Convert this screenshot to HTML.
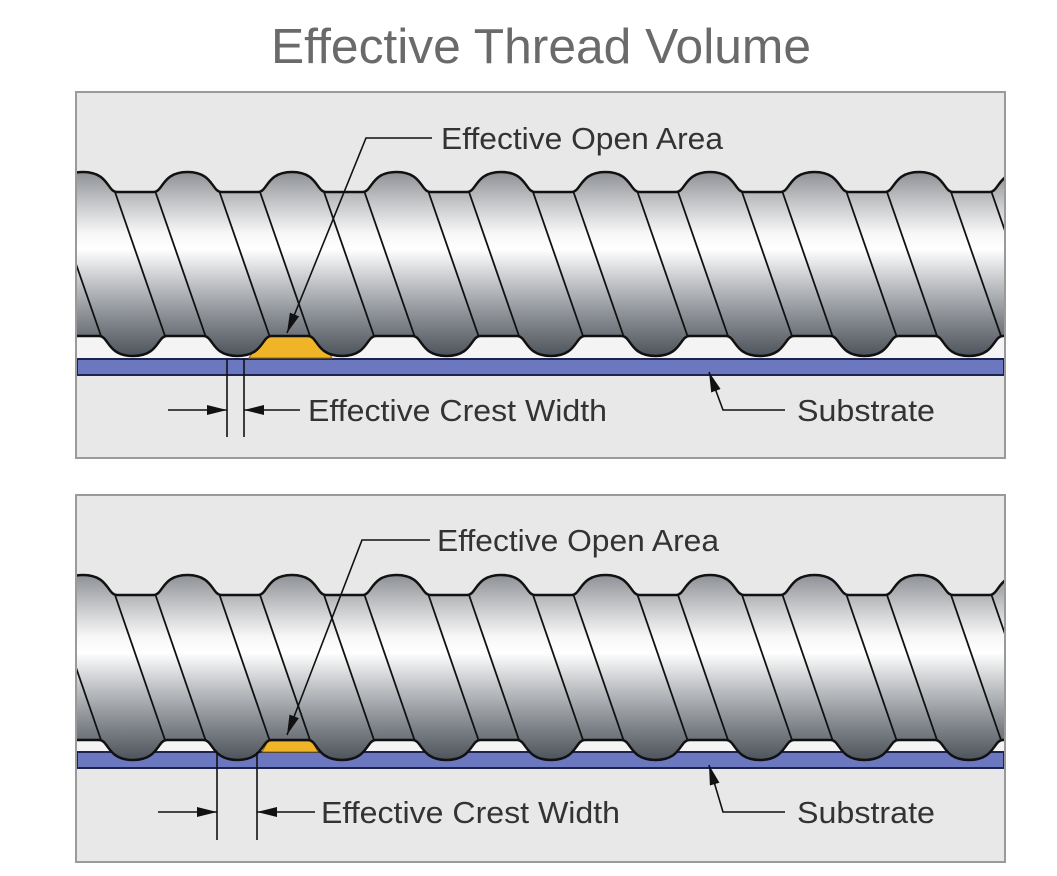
<!DOCTYPE html>
<html><head><style>
html,body{margin:0;padding:0;background:#fff;width:1057px;height:876px;overflow:hidden}
svg{display:block}
text{font-family:"Liberation Sans",sans-serif}
</style></head><body>
<svg id="s" width="1057" height="876" viewBox="0 0 1057 876" xmlns="http://www.w3.org/2000/svg">
<defs>
<marker id="ar" viewBox="0 0 20 10" refX="20" refY="5" markerWidth="20" markerHeight="10" orient="auto-start-reverse" markerUnits="userSpaceOnUse"><path d="M0,0L20,5L0,10z" fill="#111"/></marker>
</defs>
<text x="541" y="63" text-anchor="middle" font-size="49" fill="#6a6a6a" textLength="540" lengthAdjust="spacingAndGlyphs">Effective Thread Volume</text>
<g id="p1"></g><g id="p2"></g>
</svg>
<script>
var NS="http://www.w3.org/2000/svg";
function el(p,t,a){var e=document.createElementNS(NS,t);for(var k in a)e.setAttribute(k,a[k]);p.appendChild(e);return e;}
function txt(g,x,y,s,len){var t=el(g,'text',{x:x,y:y,'font-size':31,fill:'#333',textLength:len,lengthAdjust:'spacingAndGlyphs'});t.textContent=s;}
function panel(g,id,o){
 var bx0=76,bx1=1005;
 el(g,'rect',{x:bx0,y:o.by0,width:bx1-bx0,height:o.by1-o.by0,fill:'#e8e8e8',stroke:'#9a9a9a','stroke-width':2});
 var defs=el(g,'defs',{});
 var lg=el(defs,'linearGradient',{id:'g'+id,x1:0,y1:o.tb,x2:0,y2:o.bb,gradientUnits:'userSpaceOnUse'});
 [[0,'#8e9196'],[0.18,'#c9cacc'],[0.33,'#f6f6f6'],[0.42,'#ffffff'],[0.6,'#c2c4c7'],[0.82,'#7f848a'],[1,'#4e545c']].forEach(function(s){el(lg,'stop',{offset:s[0],'stop-color':s[1]});});
 var cp=el(defs,'clipPath',{id:'c'+id});el(cp,'rect',{x:bx0+1,y:o.by0,width:bx1-bx0-2,height:o.by1-o.by0});
 var P=104.5,W=34;
 el(g,'rect',{x:bx0+1,y:o.bf,width:bx1-bx0-2,height:o.sy0-o.bf,fill:'#f4f4f4'});
 el(g,'rect',{x:bx0+1,y:o.sy0,width:bx1-bx0-2,height:o.sy1-o.sy0,fill:'#6b78c0',stroke:'#1d2350','stroke-width':2});
 el(g,'path',{d:o.yel,fill:'#f0b429',stroke:'#8a6a10','stroke-width':1});
 var cg=el(g,'g',{'clip-path':'url(#c'+id+')'});
 var tops=[],bots=[];for(var c=83-P;c<1150;c+=P){tops.push(c);bots.push(c+50);}
 var d='M0,'+o.tf;
 tops.forEach(function(c){d+=' L'+(c-W)+','+o.tf+' C'+(c-W+10)+','+o.tf+' '+(c-26)+','+o.tb+' '+c+','+o.tb+' C'+(c+26)+','+o.tb+' '+(c+W-10)+','+o.tf+' '+(c+W)+','+o.tf;});
 d+=' L1100,'+o.tf+' L1100,'+o.bf;
 bots.slice().reverse().forEach(function(c){d+=' L'+(c+W)+','+o.bf+' C'+(c+W-10)+','+o.bf+' '+(c+26)+','+o.bb+' '+c+','+o.bb+' C'+(c-26)+','+o.bb+' '+(c-W+10)+','+o.bf+' '+(c-W)+','+o.bf;});
 d+=' L0,'+o.bf+'Z';
 el(cg,'path',{d:d,fill:'url(#g'+id+')',stroke:'#111','stroke-width':2.5});
 tops.forEach(function(c){
  [[-32,18],[32,82]].forEach(function(q){el(cg,'line',{x1:c+q[0],y1:o.tf,x2:c+q[1],y2:o.bf,stroke:'#111','stroke-width':1.8});});
 });
 el(g,'line',{x1:bx0,y1:o.by0,x2:bx0,y2:o.by1,stroke:'#9a9a9a','stroke-width':2});
 el(g,'line',{x1:bx1,y1:o.by0,x2:bx1,y2:o.by1,stroke:'#9a9a9a','stroke-width':2});
 el(g,'polyline',{points:o.ol,fill:'none',stroke:'#111','stroke-width':1.6,'marker-end':'url(#ar)'});
 txt(g,o.otx,o.oty,'Effective Open Area',282);
 el(g,'line',{x1:o.cx0,y1:o.sy0,x2:o.cx0,y2:o.cy2,stroke:'#111','stroke-width':1.6});
 el(g,'line',{x1:o.cx1,y1:o.sy0,x2:o.cx1,y2:o.cy2,stroke:'#111','stroke-width':1.6});
 el(g,'line',{x1:o.ax0,y1:o.ay,x2:o.cx0,y2:o.ay,stroke:'#111','stroke-width':1.6,'marker-end':'url(#ar)'});
 el(g,'line',{x1:o.ax1,y1:o.ay,x2:o.cx1,y2:o.ay,stroke:'#111','stroke-width':1.6,'marker-end':'url(#ar)'});
 txt(g,o.ctx,o.ay+11,'Effective Crest Width',299);
 el(g,'polyline',{points:'785,'+o.ay+' 723,'+o.ay+' 709,'+(o.sy1-3),fill:'none',stroke:'#111','stroke-width':1.6,'marker-end':'url(#ar)'});
 txt(g,797,o.ay+11,'Substrate',138);
}
panel(document.getElementById('p1'),1,{by0:92,by1:458,tb:172,tf:192,bf:336,bb:356,sy0:359,sy1:375,
 yel:'M262,336 L317,336 L332,358 L249,358Z',ol:'432,138 366,138 287,333',otx:441,oty:149,
 cx0:227,cx1:244,cy2:437,ay:410,ax0:168,ax1:300,ctx:308});
panel(document.getElementById('p2'),2,{by0:495,by1:862,tb:575,tf:595,bf:740,bb:760,sy0:752,sy1:768,
 yel:'M268,741 L312,741 L318,752 L262,752Z',ol:'430,540 362,540 287,735',otx:437,oty:551,
 cx0:217,cx1:257,cy2:840,ay:812,ax0:158,ax1:315,ctx:321});
</script>
</body></html>
